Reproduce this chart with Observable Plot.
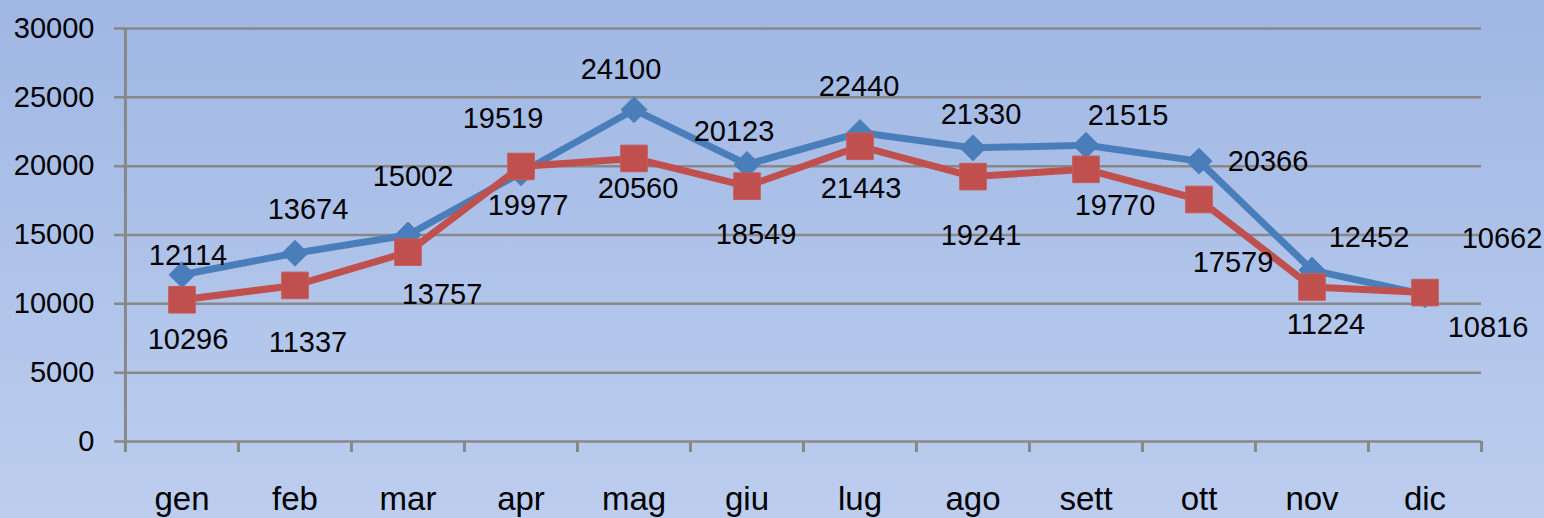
<!DOCTYPE html>
<html>
<head>
<meta charset="utf-8">
<script src="https://cdn.jsdelivr.net/npm/d3@7"></script>
<script src="https://cdn.jsdelivr.net/npm/@observablehq/plot@0.6"></script>
<style>
  html, body { margin: 0; padding: 0; }
  body { width: 1544px; height: 518px; overflow: hidden;
         background: linear-gradient(to bottom, #9fb7e3 0%, #b0c4ea 55%, #bccdee 100%); }
  svg { display: block; background: transparent !important; }
</style>
</head>
<body>
<div id="chart"></div>
<script>
const months = ["gen","feb","mar","apr","mag","giu","lug","ago","sett","ott","nov","dic"];
const serieBlu = [12114, 13674, 15002, 19519, 24100, 20123, 22440, 21330, 21515, 20366, 12452, 10662];
const serieRossa = [10296, 11337, 13757, 19977, 20560, 18549, 21443, 19241, 19770, 17579, 11224, 10816];
const yTicks = [0, 5000, 10000, 15000, 20000, 25000, 30000];

// label offsets in pixels (layout only)
const bluDx = [6, 13, 5, -18, -13, -13, -1, 8, 42, 69, 57, 77];
const bluDy = [-19, -44, -58, -54, -40, -33, -46, -33, -30, 1, -32, -56];
const rossaDx = [6, 13, 34, 7, 4, 9, 1, 8, 29, 34, 14, 63];
const rossaDy = [40, 57, 43, 39, 30, 49, 42, 59, 36, 63, 38, 35];

const W = 1544, H = 518;
const ml = 124, mr = 63, mt = 28, mb = 77;
const bw = (W - ml - mr) / months.length;
const tickLen = 800; // data units below zero for the tick marks

const blu = months.map((m, i) => ({m, v: serieBlu[i], dx: bluDx[i], dy: bluDy[i]}));
const rossa = months.map((m, i) => ({m, v: serieRossa[i], dx: rossaDx[i], dy: rossaDy[i]}));

const font = "'Liberation Sans', Arial, sans-serif";
const BLUE = "#4a7ebb", RED = "#c0504d", GRID = "#888888";

const labelMarks = (data) => data.map(d => Plot.text([d], {
  x: "m", y: "v", text: x => String(x.v), dx: d.dx, dy: d.dy,
  fontSize: 29, fill: "black", textAnchor: "middle"
}));

const chart = Plot.plot({
  width: W, height: H,
  marginLeft: ml, marginRight: mr, marginTop: mt, marginBottom: mb,
  style: {fontFamily: font, background: "transparent"},
  x: {type: "band", domain: months, padding: 0, axis: null},
  y: {domain: [0, 30000], axis: null},
  marks: [
    // gridlines (extend left past the axis)
    Plot.ruleY(yTicks, {stroke: GRID, strokeWidth: 2.5, insetLeft: -10}),
    // vertical axis line
    Plot.ruleX([months[0]], {y1: () => -tickLen, y2: () => 30000, dx: -bw / 2, stroke: GRID, strokeWidth: 3}),
    // category boundary ticks below the baseline
    Plot.ruleX(months, {y1: () => -tickLen, y2: () => 0, dx: -bw / 2, stroke: GRID, strokeWidth: 3}),
    Plot.ruleX([months[months.length - 1]], {y1: () => -tickLen, y2: () => 0, dx: bw / 2, stroke: GRID, strokeWidth: 3}),
    // y tick labels
    Plot.text(yTicks, {x: () => months[0], y: d => d, text: d => String(d), dx: -bw / 2 - 31,
      textAnchor: "end", fontSize: 29, fill: "black"}),
    // x tick labels
    Plot.text(months, {x: d => d, y: () => 0, text: d => d, dy: 58, fontSize: 33, fill: "black", textAnchor: "middle"}),
    // blue series
    Plot.line(blu, {x: "m", y: "v", stroke: BLUE, strokeWidth: 7, strokeLinejoin: "round"}),
    Plot.dot(blu, {x: "m", y: "v", symbol: "diamond2", r: 11.7, fill: BLUE, stroke: BLUE, strokeWidth: 1}),
    // red series
    Plot.line(rossa, {x: "m", y: "v", stroke: RED, strokeWidth: 7, strokeLinejoin: "round"}),
    Plot.dot(rossa, {x: "m", y: "v", symbol: "square", r: 15, fill: RED, stroke: "#c65a57", strokeWidth: 1}),
    ...labelMarks(blu),
    ...labelMarks(rossa)
  ]
});
document.getElementById("chart").appendChild(chart);
</script>
</body>
</html>
